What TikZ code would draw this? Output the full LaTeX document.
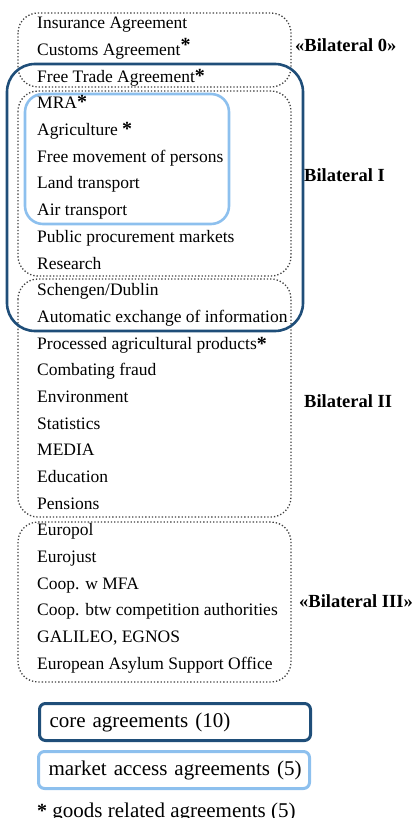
\documentclass[tikz,border=0pt]{standalone}
\usepackage{fontspec}
\setmainfont{Liberation Serif}

\definecolor{coreblue}{RGB}{31,78,121}
\definecolor{marketblue}{RGB}{141,192,238}

\tikzset{
	item/.style={anchor=base west, inner sep=0pt, font=\fontsize{17.5}{20}\selectfont},
	package/.style={anchor=base west, inner sep=0pt, font=\fontsize{18.5}{20}\selectfont\bfseries},
	bilat/.style={draw=black!75, dotted, line width=1.3pt, rounded corners=20pt},
	corebox/.style={draw=coreblue, line width=2.6pt, rounded corners=28pt},
	marketbox/.style={draw=marketblue, line width=2.6pt, rounded corners=18pt},
	keybox/.style={anchor=north west, line width=3pt, rounded corners=6pt, inner xsep=5.5pt, text width=260pt, minimum height=37pt, font=\fontsize{21}{24}\selectfont}
}
% goods mark, raised by #1
\newcommand{\gstar}[1][0pt]{\raisebox{#1}{\fontsize{20}{20}\selectfont\bfseries *}}

\begin{document}
\begin{tikzpicture}[x=1pt,y=-1pt]
	\useasboundingbox (0,0) rectangle (417,818);

	% packages
	\draw[bilat]  (18,13) rectangle (291,87);
	\draw[bilat]  (18,91) rectangle (291,276);
	\draw[bilat]  (18,279) rectangle (291,517);
	\draw[bilat]  (18,522) rectangle (291,682);

	\draw[corebox]  (7,64) rectangle (303,331);
	\draw[marketbox]  (25,94) rectangle (229,224);

	\node[package] (b0) at (295,52) {«Bilateral 0»};
	\node[package] (b1) at (304,182) {Bilateral I};
	\node[package] (b2) at (304,407) {Bilateral II};
	\node[package] (b3) at (299,607) {«Bilateral III»};

	% agreements
	\node[item] (ins) at (37,29) {Insurance Agreement};
	\node[item] (cust) at (37,55.7) {Customs Agreement\gstar[4pt]};
	\node[item] (fta) at (37,82.3) {Free Trade Agreement\gstar};

	\node[item] (mra) at (37,109) {MRA\gstar};
	\node[item] (agri) at (37,135.7) {Agriculture \gstar};
	\node[item] (fmp) at (37,162.3) {Free movement of persons};
	\node[item] (land) at (37,189) {Land transport};
	\node[item] (air) at (37,215.7) {Air transport};
	\node[item] (proc) at (37,242.3) {Public procurement markets};
	\node[item] (res) at (37,269) {Research};

	\node[item] (schen) at (37,295.7) {Schengen/Dublin};
	\node[item] (aeoi) at (37,322.3) {Automatic exchange of information};
	\node[item] (pap) at (37,349) {Processed agricultural products\gstar[-1pt]};
	\node[item] (fraud) at (37,375.7) {Combating fraud};
	\node[item] (env) at (37,402.3) {Environment};
	\node[item] (stat) at (37,429) {Statistics};
	\node[item] (media) at (37,455.7) {MEDIA};
	\node[item] (edu) at (37,482.3) {Education};
	\node[item] (pens) at (37,509) {Pensions};

	\node[item] (epol) at (37,535.7) {Europol};
	\node[item] (ejust) at (37,562.3) {Eurojust};
	\node[item] (mfa) at (37,589) {Coop. w MFA};
	\node[item] (comp) at (37,615.7) {Coop. btw competition authorities};
	\node[item] (gal) at (37,642.3) {GALILEO, EGNOS};
	\node[item] (easo) at (37,669) {European Asylum Support Office};

	% legend
	\node[keybox, draw=coreblue] (kcore) at (38,702) {\hspace*{4.5pt}core agreements (10)};
	\node[keybox, draw=marketblue] (kmarket) at (37,750) {\hspace*{4.5pt}market access agreements (5)};
	\node[item, font=\fontsize{21}{24}\selectfont] (kgoods) at (37,817) {\gstar\ goods related agreements (5)};
\end{tikzpicture}
\end{document}
